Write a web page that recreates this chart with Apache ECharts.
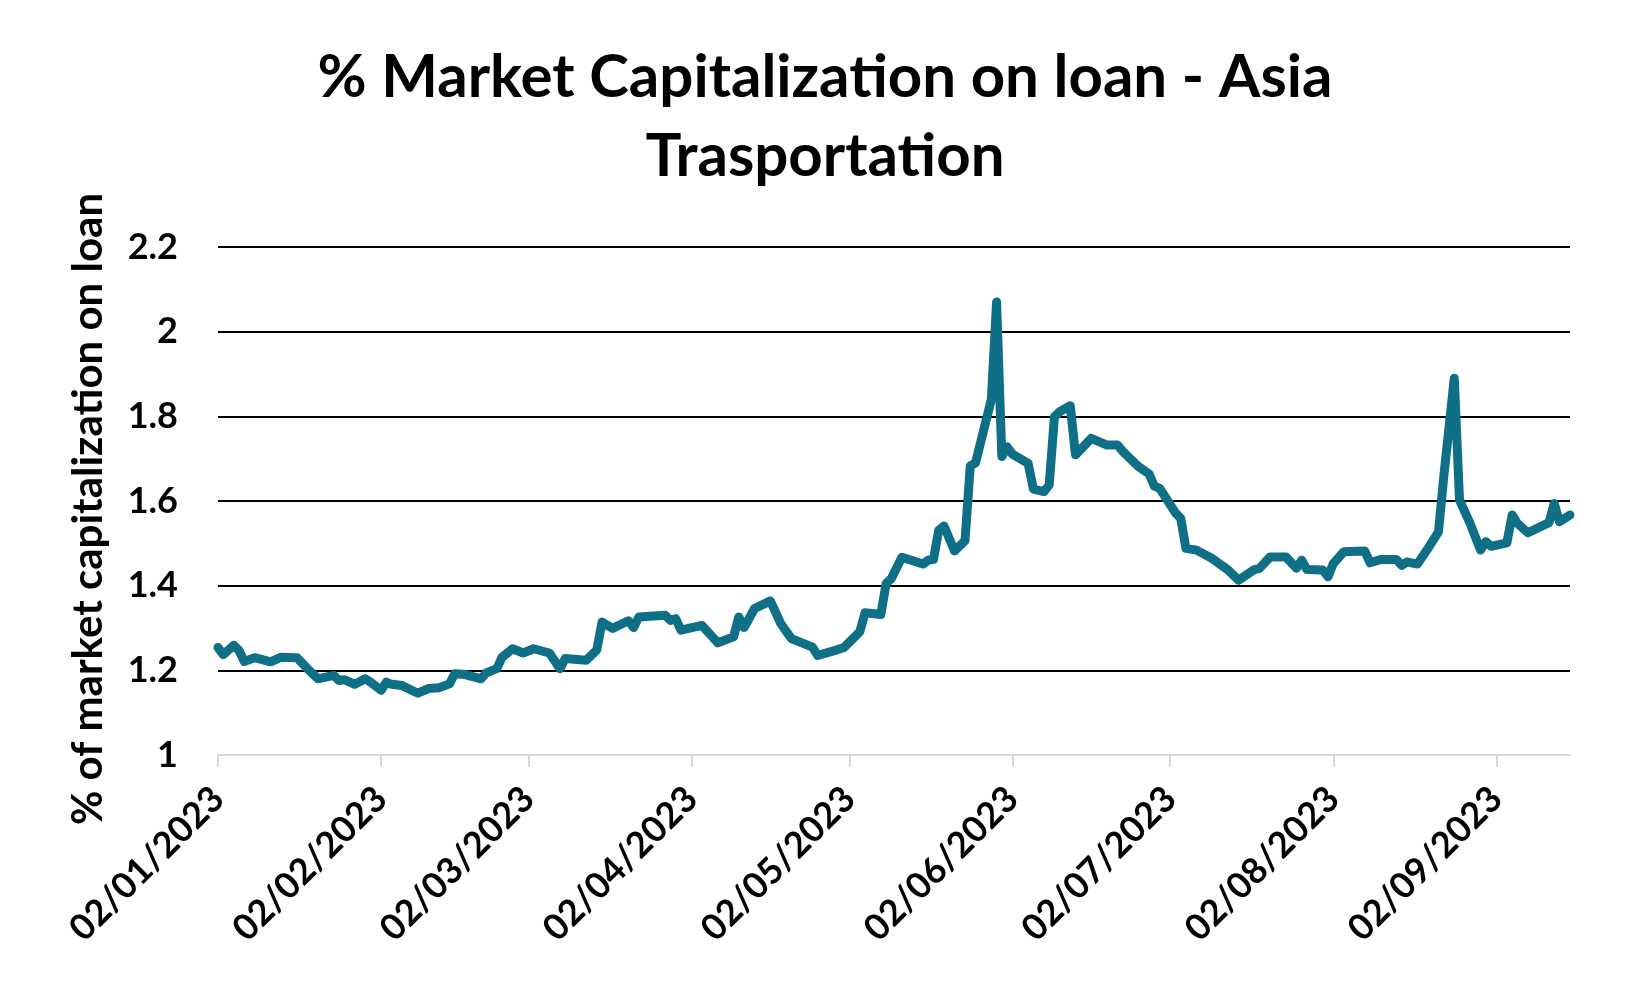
<!DOCTYPE html>
<html><head><meta charset="utf-8">
<script src="https://cdn.jsdelivr.net/npm/echarts@6/dist/echarts.min.js"></script>
<style>html,body{margin:0;padding:0;background:#fff}#c{width:1650px;height:990px}</style>
</head><body><div id="c"></div>
<script>
const titleText = '% Market Capitalization on loan - Asia\nTrasportation';
const yAxisName = '% of market capitalization on loan';
const dates = [
'2023-01-02','2023-01-03','2023-01-05','2023-01-06','2023-01-07','2023-01-09','2023-01-12','2023-01-14','2023-01-17','2023-01-19',
'2023-01-21','2023-01-24','2023-01-25','2023-01-26','2023-01-28','2023-01-30','2023-01-31','2023-02-02','2023-02-03','2023-02-04',
'2023-02-06','2023-02-09','2023-02-11','2023-02-13','2023-02-15','2023-02-16','2023-02-18','2023-02-21','2023-02-22','2023-02-24',
'2023-02-25','2023-02-27','2023-03-01','2023-03-03','2023-03-06','2023-03-08','2023-03-09','2023-03-13','2023-03-15','2023-03-16',
'2023-03-18','2023-03-21','2023-03-22','2023-03-23','2023-03-28','2023-03-29','2023-03-30','2023-03-31','2023-04-04','2023-04-07',
'2023-04-10','2023-04-11','2023-04-12','2023-04-14','2023-04-17','2023-04-19','2023-04-21','2023-04-25','2023-04-26','2023-04-29',
'2023-05-01','2023-05-04','2023-05-05','2023-05-08','2023-05-09','2023-05-10','2023-05-12','2023-05-16','2023-05-17','2023-05-18',
'2023-05-19','2023-05-20','2023-05-22','2023-05-24','2023-05-25','2023-05-26','2023-05-29','2023-05-30','2023-05-31','2023-06-01',
'2023-06-02','2023-06-05','2023-06-06','2023-06-08','2023-06-09','2023-06-10','2023-06-11','2023-06-13','2023-06-14','2023-06-17',
'2023-06-20','2023-06-22','2023-06-23','2023-06-26','2023-06-28','2023-06-29','2023-06-30','2023-07-03','2023-07-04','2023-07-05',
'2023-07-07','2023-07-10','2023-07-13','2023-07-15','2023-07-18','2023-07-19','2023-07-21','2023-07-24','2023-07-26','2023-07-27',
'2023-07-28','2023-07-31','2023-08-01','2023-08-02','2023-08-04','2023-08-08','2023-08-09','2023-08-11','2023-08-14','2023-08-15',
'2023-08-16','2023-08-18','2023-08-20','2023-08-22','2023-08-23','2023-08-25','2023-08-26','2023-08-28','2023-08-30','2023-08-31',
'2023-09-01','2023-09-04','2023-09-05','2023-09-06','2023-09-08','2023-09-12','2023-09-13','2023-09-14','2023-09-16'
];
const values = [
1.254,1.237,1.259,1.247,1.221,1.230,1.220,1.231,1.230,1.204,
1.180,1.188,1.176,1.178,1.167,1.180,1.172,1.153,1.172,1.167,
1.164,1.146,1.157,1.159,1.168,1.192,1.190,1.180,1.194,1.204,
1.231,1.251,1.241,1.251,1.241,1.204,1.228,1.224,1.248,1.314,
1.299,1.317,1.301,1.326,1.330,1.318,1.322,1.295,1.306,1.265,
1.279,1.326,1.301,1.346,1.364,1.310,1.275,1.255,1.235,1.246,
1.254,1.291,1.336,1.332,1.405,1.417,1.467,1.451,1.460,1.462,
1.531,1.541,1.482,1.506,1.683,1.690,1.840,2.070,1.705,1.728,
1.711,1.689,1.628,1.622,1.638,1.799,1.811,1.825,1.709,1.748,
1.732,1.732,1.717,1.681,1.664,1.635,1.630,1.572,1.559,1.488,
1.484,1.464,1.437,1.413,1.438,1.441,1.468,1.468,1.441,1.460,
1.438,1.437,1.421,1.452,1.480,1.482,1.454,1.462,1.462,1.448,
1.456,1.451,1.488,1.527,1.657,1.890,1.602,1.547,1.484,1.504,
1.493,1.501,1.567,1.547,1.525,1.549,1.594,1.551,1.567
];
const tickDates = ['2023-01-02','2023-02-02','2023-03-02','2023-04-02','2023-05-02','2023-06-02','2023-07-02','2023-08-02','2023-09-02'];
const xMinDate = '2023-01-02';
const xMaxDate = '2023-09-16';

function ts(s){ const p = s.split('-').map(Number); return Date.UTC(p[0], p[1]-1, p[2]); }
function fmt(t){ const d = new Date(t); const dd = String(d.getUTCDate()).padStart(2,'0'); const mm = String(d.getUTCMonth()+1).padStart(2,'0'); return dd + '/' + mm + '/' + d.getUTCFullYear(); }

const seriesData = dates.map((d,i) => [ts(d), values[i]]);
const tickVals = tickDates.map(ts);

const chart = echarts.init(document.getElementById('c'), null, {renderer:'canvas'});
chart.setOption({
  backgroundColor: '#fff',
  animation: false,
  title: {
    text: titleText,
    left: 'center',
    top: 33,
    textStyle: { fontFamily: 'Lato', fontWeight: 'bold', fontSize: 60, lineHeight: 79, color: '#000' }
  },
  grid: { left: 218, right: 80, top: 247, bottom: 235, containLabel: false },
  xAxis: {
    type: 'value',
    min: ts(xMinDate),
    max: ts(xMaxDate),
    splitLine: { show: false },
    axisLine: { show: true, lineStyle: { color: '#d9d9d9', width: 2 } },
    axisTick: { show: true, customValues: tickVals, length: 12, lineStyle: { color: '#d9d9d9', width: 2 } },
    axisLabel: {
      customValues: tickVals,
      formatter: v => fmt(v),
      rotate: 45,
      margin: 38,
      fontFamily: 'Lato', fontWeight: 'bold', fontSize: 36, color: '#000'
    }
  },
  yAxis: {
    type: 'value',
    min: 1, max: 2.2, interval: 0.2,
    name: yAxisName,
    nameLocation: 'middle',
    nameGap: 109,
    nameTextStyle: { fontFamily: 'Lato', fontWeight: 'bold', fontSize: 42, color: '#000', padding: [0, 16, 0, 0] },
    axisLine: { show: false },
    axisTick: { show: false },
    axisLabel: { margin: 40, fontFamily: 'Lato', fontWeight: 'bold', fontSize: 36, color: '#000' },
    splitLine: { show: true, lineStyle: { color: ['#d9d9d9','#000','#000','#000','#000','#000','#000'], width: 2 } }
  },
  series: [{
    type: 'line',
    data: seriesData,
    showSymbol: false,
    lineStyle: { color: '#0f6f86', width: 9, join: 'round', cap: 'round' },
    itemStyle: { color: '#0f6f86' }
  }]
});
</script></body></html>
